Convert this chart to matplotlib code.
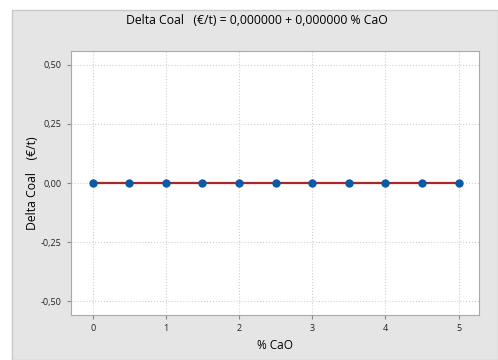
import matplotlib.pyplot as plt
from matplotlib.patches import Rectangle
from matplotlib.ticker import FuncFormatter

plt.rcParams['font.family'] = ['Open Sans', 'DejaVu Sans']

cao = [0, 0.5, 1, 1.5, 2, 2.5, 3, 3.5, 4, 4.5, 5]
delta_coal = [0, 0, 0, 0, 0, 0, 0, 0, 0, 0, 0]
intercept = 0.0
slope = 0.0

fig = plt.figure(figsize=(4.98, 3.6), dpi=100)
fig.patch.set_facecolor('white')
# gray backdrop like Minitab's graph region
fig.patches.append(Rectangle((12 / 498, 0), 1 - 12 / 498, 350 / 360,
                             transform=fig.transFigure, facecolor='#e5e5e5',
                             edgecolor='#c8c8c8', linewidth=1, zorder=-10))

ax = fig.add_axes([0.142, 0.125, 0.820, 0.733])
ax.set_zorder(1)
ax.set_facecolor('white')

fit_x = [min(cao), max(cao)]
fit_y = [intercept + slope * v for v in fit_x]
ax.plot(fit_x, fit_y, color='#a8282a', linewidth=1.6, zorder=2)
ax.plot(cao, delta_coal, 'o', color='#0a5aa8', markersize=5, zorder=3)

ax.set_xlim(-0.3, 5.28)
ax.set_ylim(-0.557, 0.557)
ax.set_xticks([0, 1, 2, 3, 4, 5])
ax.set_yticks([-0.5, -0.25, 0, 0.25, 0.5])
ax.yaxis.set_major_formatter(FuncFormatter(lambda v, p: f'{v:.2f}'.replace('.', ',')))
ax.grid(True, color='#d0d0d0', linestyle=':', linewidth=0.8)
ax.set_axisbelow(True)
ax.tick_params(labelsize=6.5, length=3, color='#888888', colors='#222222')
for s in ax.spines.values():
    s.set_color('#aaaaaa')

ax.set_xlabel('% CaO', fontsize=8.5)
ax.set_ylabel('Delta Coal    (€/t)', fontsize=8.8)
ax.yaxis.set_label_coords(-0.078, 0.5)
fig.text(0.515, 0.944, 'Delta Coal   (€/t) = 0,000000 + 0,000000 % CaO',
         ha='center', va='center', fontsize=8.8)

fig.savefig('out.png', dpi=100)
